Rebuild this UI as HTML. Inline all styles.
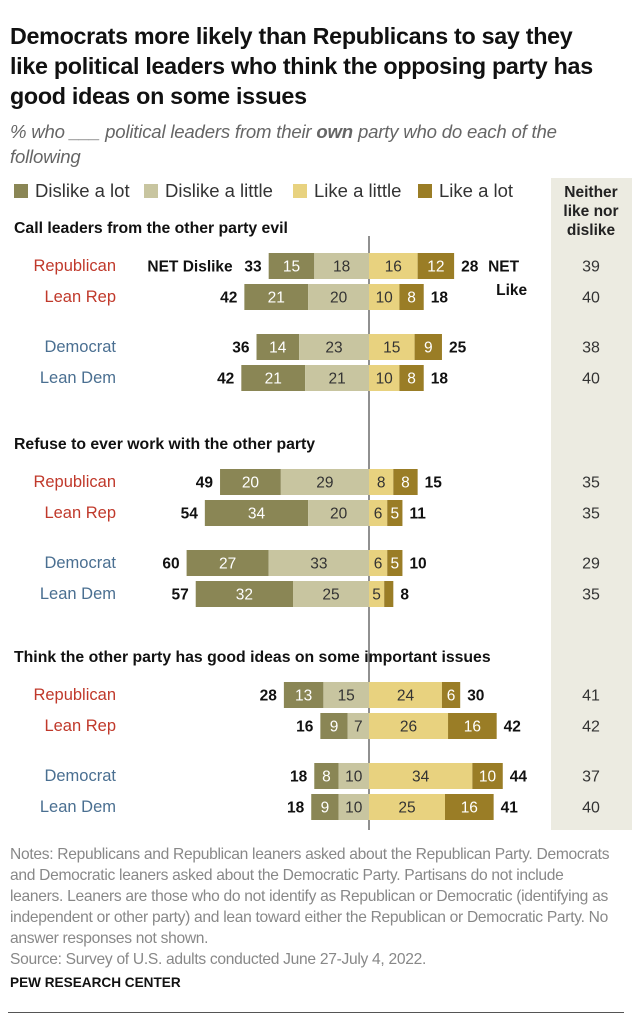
<!DOCTYPE html>
<html><head><meta charset="utf-8">
<style>
body{margin:0;width:632px;height:1023px;background:#fff;font-family:"Liberation Sans",sans-serif;overflow:hidden;position:relative}
.t{position:absolute;left:10px;top:21px;font-size:23.3px;font-weight:bold;line-height:30px;color:#111;letter-spacing:-0.3px;white-space:nowrap}
.s{position:absolute;left:10px;top:119px;font-size:18.6px;font-style:italic;color:#666;line-height:25px;letter-spacing:-0.2px;white-space:nowrap}
.n{position:absolute;left:10px;top:844px;font-size:15.6px;color:#888;line-height:21px;letter-spacing:-0.3px;white-space:nowrap}
.p{position:absolute;left:10px;top:975px;font-size:13.6px;font-weight:bold;color:#111}
</style></head><body>
<div class="t">Democrats more likely than Republicans to say they<br>like political leaders who think the opposing party has<br>good ideas on some issues</div>
<div class="s">% who ___ political leaders from their <b>own</b> party who do each of the<br>following</div>
<svg width="632" height="1023" style="position:absolute;left:0;top:0" id="chart"></svg>
<div class="n">Notes: Republicans and Republican leaners asked about the Republican Party. Democrats<br>and Democratic leaners asked about the Democratic Party. Partisans do not include<br>leaners. Leaners are those who do not identify as Republican or Democratic (identifying as<br>independent or other party) and lean toward either the Republican or Democratic Party. No<br>answer responses not shown.<br>Source: Survey of U.S. adults conducted June 27-July 4, 2022.</div>
<div class="p">PEW RESEARCH CENTER</div>
<div style="position:absolute;left:8px;right:8px;top:1012px;height:1px;background:#555"></div>
<script>
const sections=["Call leaders from the other party evil","Refuse to ever work with the other party","Think the other party has good ideas on some important issues"];
const groups=["Republican","Lean Rep","Democrat","Lean Dem"];
const dislikeLot=[[15,21,14,21],[20,34,27,32],[13,9,8,9]];
const dislikeLittle=[[18,20,23,21],[29,20,33,25],[15,7,10,10]];
const likeLittle=[[16,10,15,10],[8,6,6,5],[24,26,34,25]];
const likeLot=[[12,8,9,8],[8,5,5,3],[6,16,10,16]];
const netDislike=[[33,42,36,42],[49,54,60,57],[28,16,18,18]];
const netLike=[[28,18,25,18],[15,11,10,8],[30,42,44,41]];
const neither=[[39,40,38,40],[35,35,29,35],[41,42,37,40]];
const legendLabels=["Dislike a lot","Dislike a little","Like a little","Like a lot"];

const svg=document.getElementById('chart');const NS='http://www.w3.org/2000/svg';
const colors=['#8a8655','#c8c5a0','#e8d27f','#9a7d26'];
const cx=369,k=3.04,bh=26;
const x=v=>cx+v*k;
const secTop=[228,444,657];
const rowOff=[38,69,119,150];
function el(tag,attrs,txt){const e=document.createElementNS(NS,tag);for(const a in attrs)e.setAttribute(a,attrs[a]);if(txt!==undefined)e.textContent=txt;svg.appendChild(e);return e;}
const bg=el('rect',{x:551,y:178,width:81,height:652,fill:'#ecebe1'});

const nh=el('text',{x:591,y:197,'text-anchor':'middle','font-size':15.5,'font-weight':'bold',fill:'#222'});

['Neither','like nor','dislike'].forEach((t,i)=>{const ts=document.createElementNS(NS,'tspan');ts.setAttribute('x',591);ts.setAttribute('dy',i?19:0);ts.textContent=t;nh.appendChild(ts);});
const lx=[14,144,293,418];
legendLabels.forEach((l,i)=>{
 const r=el('rect',{x:lx[i],y:184,width:14,height:14,fill:colors[i]});
 
 const t=el('text',{x:lx[i]+21,y:197,'font-size':18.5,fill:'#333'},l);
 
});
const cl=el('line',{x1:cx,x2:cx,y1:236,y2:830,stroke:'#222','stroke-width':1});

sections.forEach((s,si)=>{
 const st=el('text',{x:14,y:secTop[si]+5,'font-size':15.8,'font-weight':'bold',fill:'#111'},s);
 
 groups.forEach((g,gi)=>{
  const yc=secTop[si]+rowOff[gi];const y=yc-bh/2;
  const gl=el('text',{x:116,y:yc+5,'text-anchor':'end','font-size':16.5,fill:gi<2?'#c0392b':'#4a6f91'},g);
  
  const a=dislikeLot[si][gi],b=dislikeLittle[si][gi],c=likeLittle[si][gi],d=likeLot[si][gi];
  const segs=[[-(a+b),-b,0,a],[-b,0,1,b],[0,c,2,c],[c,c+d,3,d]];
  segs.forEach(([v0,v1,ci,val])=>{
   const r=el('rect',{x:x(v0),y:y,width:x(v1)-x(v0),height:bh,fill:colors[ci]});
   
   
   if(val>=4){const t=el('text',{x:(x(v0)+x(v1))/2,y:yc+5.5,'text-anchor':'middle','font-size':15.5,fill:(ci==0||ci==3)?'#fff':'#333'},val);
    }
  });
  const nl=el('text',{x:x(-(a+b))-7,y:yc+5.5,'text-anchor':'end','font-size':15.5,'font-weight':'bold',fill:'#111'},netDislike[si][gi]);
  
  const nr=el('text',{x:x(c+d)+7,y:yc+5.5,'font-size':15.5,'font-weight':'bold',fill:'#111'},netLike[si][gi]);
  
  const nv=el('text',{x:591,y:yc+5.5,'text-anchor':'middle','font-size':16,fill:'#333'},neither[si][gi]);
  
  if(si==0&&gi==0){
   const t1=el('text',{x:x(-(a+b))-36,y:yc+5.5,'text-anchor':'end','font-size':15.5,'font-weight':'bold',fill:'#111'},'NET Dislike');
   
   const t2=el('text',{x:x(c+d)+34,y:yc+5.5,'font-size':15.5,'font-weight':'bold',fill:'#111'},'NET');
   
   const t3=el('text',{x:x(c+d)+42,y:yc+29,'font-size':15.5,'font-weight':'bold',fill:'#111'},'Like');
   
  }
 });
});
</script>
</body></html>
